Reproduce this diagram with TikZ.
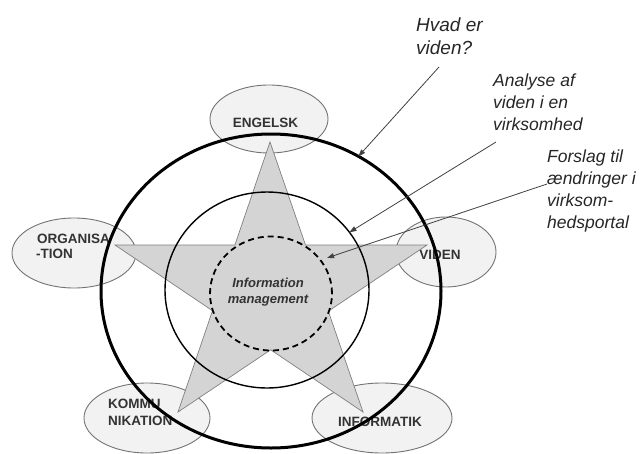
\documentclass[tikz,border=0pt]{standalone}
\usepackage{fontspec}
\setmainfont{Liberation Sans}
\usetikzlibrary{shapes.geometric,arrows.meta}
\begin{document}
\begin{tikzpicture}[x=1pt,y=-1pt,
  subj/.style={draw=black!55, fill=black!5, line width=0.9pt, ellipse, inner sep=0pt},
  lab/.style={font=\bfseries\fontsize{13.5}{16.5}\selectfont, text=black!80, inner sep=0pt},
  note/.style={font=\itshape\fontsize{17.5}{21.7}\selectfont, align=left, inner sep=0pt, anchor=base west, text=black!85},
  ring/.style={draw=black, ellipse, inner sep=0pt, outer sep=0pt},
  pointer/.style={draw=black!75, line width=0.8pt, -{Triangle[length=7pt,width=5pt]}},
]
\useasboundingbox (0,0) rectangle (640,453);

% subject ellipses
\node[subj, minimum width=118pt, minimum height=68pt] (eng) at (269,119) {};
\node[subj, minimum width=124pt, minimum height=70pt] (org) at (74,253) {};
\node[subj, minimum width=100pt, minimum height=70pt] (vid) at (446,252) {};
\node[subj, minimum width=126pt, minimum height=70pt] (kom) at (147,418) {};
\node[subj, minimum width=140pt, minimum height=70pt] (inf) at (382,418) {};

\node[lab, anchor=base] (tEng) at (265.5,127) {ENGELSK};
\node[lab, anchor=base west] (tOrgA) at (37,243.5) {ORGANISA};
\node[lab, anchor=base west] (tOrgB) at (36,258.5) {-TION};
\node[lab, anchor=base] (tVid) at (440,259) {VIDEN};
\node[lab, anchor=base west] (tKomA) at (108,408) {KOMMU};
\node[lab, anchor=base west] (tKomB) at (108,425) {NIKATION};
\node[lab, anchor=base] (tInf) at (380,426) {INFORMATIK};

% star
\filldraw[fill=black!17, draw=black!50, line width=0.7pt]
  (270,142) -- (305.5,245) -- (427,245) -- (328.3,311.2) -- (363,412)
  -- (270.7,349.8) -- (178,412) -- (212.5,310.7) -- (115,245) -- (234.9,245) -- cycle;

% rings
\node[ring, line width=3pt, minimum width=340pt, minimum height=314pt] (outer) at (271,291) {};
\node[ring, line width=1.4pt, minimum width=204pt, minimum height=196pt] (inner) at (267,290) {};
\node[ring, line width=1.8pt, dash pattern=on 6pt off 4pt, minimum width=122pt, minimum height=114pt] (core) at (271,293.5) {};
\node[font=\bfseries\itshape\fontsize{13}{16}\selectfont, align=center, text=black!80, inner sep=0pt, anchor=base] (tCore) at (268,303) {Information\\management};

% annotations (anchor = baseline of last line)
\node[note, font=\itshape\fontsize{19}{23}\selectfont] (q1) at (416,54) {Hvad er\\viden?};
\node[note] (q2) at (493,130) {Analyse af\\viden i en\\virksomhed};
\node[note] (q3) at (547,228) {Forslag til\\ændringer i\\virksom-\\hedsportal};

\coordinate (s1) at (439,67);
\coordinate (s2) at (496,142);
\coordinate (s3) at (547,184);
\draw[pointer] (s1) -- (outer.57);
\draw[pointer] (s2) -- (inner.35);
\draw[pointer, shorten >=7pt] (s3) -- (core.34);
\end{tikzpicture}
\end{document}
